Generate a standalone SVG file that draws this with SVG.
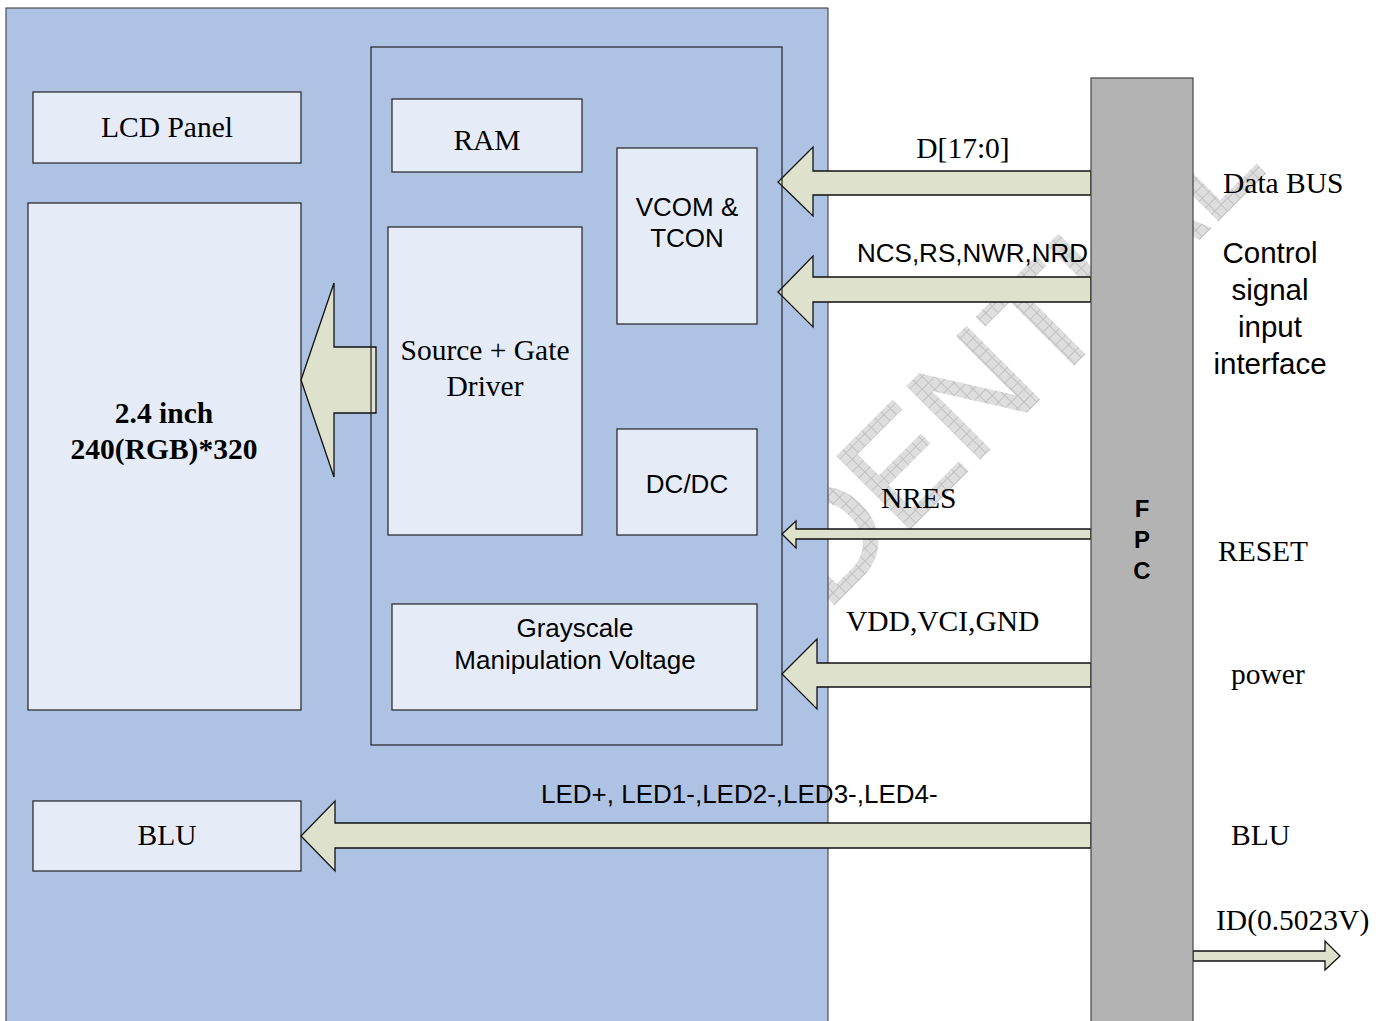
<svg xmlns="http://www.w3.org/2000/svg" width="1390" height="1021" viewBox="0 0 1390 1021">
<style>
.box{fill:#e6ecf7;stroke:#222;stroke-width:1.2}
.arrow{fill:#dee2cc;stroke:#111;stroke-width:1.3;stroke-linejoin:miter}
.ser{font-family:"Liberation Serif","Times New Roman",serif;font-size:29.5px;fill:#000}
.san{font-family:"Liberation Sans",Arial,sans-serif;font-size:26px;fill:#000}
.sanL{font-family:"Liberation Sans",Arial,sans-serif;font-size:29.5px;fill:#000}
.mid{text-anchor:middle}
.fpcl{font-family:"Liberation Sans",Arial,sans-serif;font-size:24px;font-weight:bold;text-anchor:middle}
</style>
<defs>
<pattern id="hatch" patternUnits="userSpaceOnUse" width="9" height="9">
<rect width="9" height="9" fill="#dedede"/>
<path d="M0 0.5H9M0.5 0V9" stroke="#c2c2c2" stroke-width="1"/>
</pattern>
</defs>
<rect width="1390" height="1021" fill="#fff"/>
<g id="watermark">
<text x="0" y="0" transform="translate(826,612) rotate(-45)" font-family="Liberation Sans, Arial, sans-serif" font-size="148" fill="url(#hatch)" stroke="url(#hatch)" stroke-width="2.5">DENTIAL</text>
</g>
<g id="module">
<rect x="6" y="8" width="822" height="1030" fill="#aec2e3" stroke="#333" stroke-width="1"/>
</g>
<g id="lcd-panel">
<rect class="box" x="33" y="92" width="268" height="71"/>
<text class="ser mid" x="167" y="137">LCD Panel</text>
</g>
<g id="display">
<rect class="box" x="28" y="203" width="273" height="507"/>
<text class="ser mid" x="164" y="423" font-weight="bold">2.4 inch</text>
<text class="ser mid" x="164" y="459" font-weight="bold">240(RGB)*320</text>
</g>
<g id="blu">
<rect class="box" x="33" y="801" width="268" height="70"/>
<text class="ser mid" x="167" y="845">BLU</text>
</g>
<g id="ram">
<rect class="box" x="392" y="99" width="190" height="73"/>
<text class="ser mid" x="487" y="150">RAM</text>
</g>
<g id="vcom-tcon">
<rect class="box" x="617" y="148" width="140" height="176"/>
<text class="san mid" x="687" y="216">VCOM &amp;</text>
<text class="san mid" x="687" y="247">TCON</text>
</g>
<g id="source-gate">
<rect class="box" x="388" y="227" width="194" height="308"/>
<text class="ser mid" x="485" y="360">Source + Gate</text>
<text class="ser mid" x="485" y="396">Driver</text>
</g>
<g id="dcdc">
<rect class="box" x="617" y="429" width="140" height="106"/>
<text class="san mid" x="687" y="493">DC/DC</text>
</g>
<g id="grayscale">
<rect class="box" x="392" y="604" width="365" height="106"/>
<text class="san mid" x="575" y="637">Grayscale</text>
<text class="san mid" x="575" y="669">Manipulation Voltage</text>
</g>
<g id="connectors">
<polygon class="arrow" points="376,347 334,347 334,283 301,380 334,477 334,413 376,413"/>
<polygon class="arrow" points="1091,171 813,171 813,147 778,182 813,216 813,195 1091,195"/>
<polygon class="arrow" points="1091,277 813,277 813,256 778,292 813,327 813,302 1091,302"/>
<polygon class="arrow" points="1091,529 796,529 796,521 782,534 796,548 796,539 1091,539"/>
<polygon class="arrow" points="1091,663 817,663 817,639 782,674 817,709 817,687 1091,687"/>
<polygon class="arrow" points="1091,823 335,823 335,801 301,836 335,871 335,848 1091,848"/>
<polygon class="arrow" points="1193,951 1325,951 1325,941 1340,956 1325,970 1325,961 1193,961"/>
<text class="ser mid" x="963" y="158">D[17:0]</text>
<text class="san" x="857" y="262">NCS,RS,NWR,NRD</text>
<text class="ser" x="881" y="508">NRES</text>
<text class="ser" x="846" y="631">VDD,VCI,GND</text>
<text class="san" x="541" y="803">LED+, LED1-,LED2-,LED3-,LED4-</text>
<text class="ser" x="1216" y="930">ID(0.5023V)</text>
</g>
<g id="ic">
<rect x="371" y="47" width="411" height="698" fill="none" stroke="#222" stroke-width="1.2"/>
</g>
<g id="fpc">
<rect x="1091" y="78" width="102" height="960" fill="#b3b3b3" stroke="#444" stroke-width="1.2"/>
<text class="fpcl" x="1142" y="517">F</text>
<text class="fpcl" x="1142" y="548">P</text>
<text class="fpcl" x="1142" y="579">C</text>
</g>
<g id="labels">
<text class="ser" x="1223" y="193">Data BUS</text>
<text class="sanL mid" x="1270" y="263">Control</text>
<text class="sanL mid" x="1270" y="300">signal</text>
<text class="sanL mid" x="1270" y="337">input</text>
<text class="sanL mid" x="1270" y="374">interface</text>
<text class="ser" x="1218" y="561">RESET</text>
<text class="ser" x="1231" y="684">power</text>
<text class="ser" x="1231" y="845">BLU</text>
</g>
</svg>
